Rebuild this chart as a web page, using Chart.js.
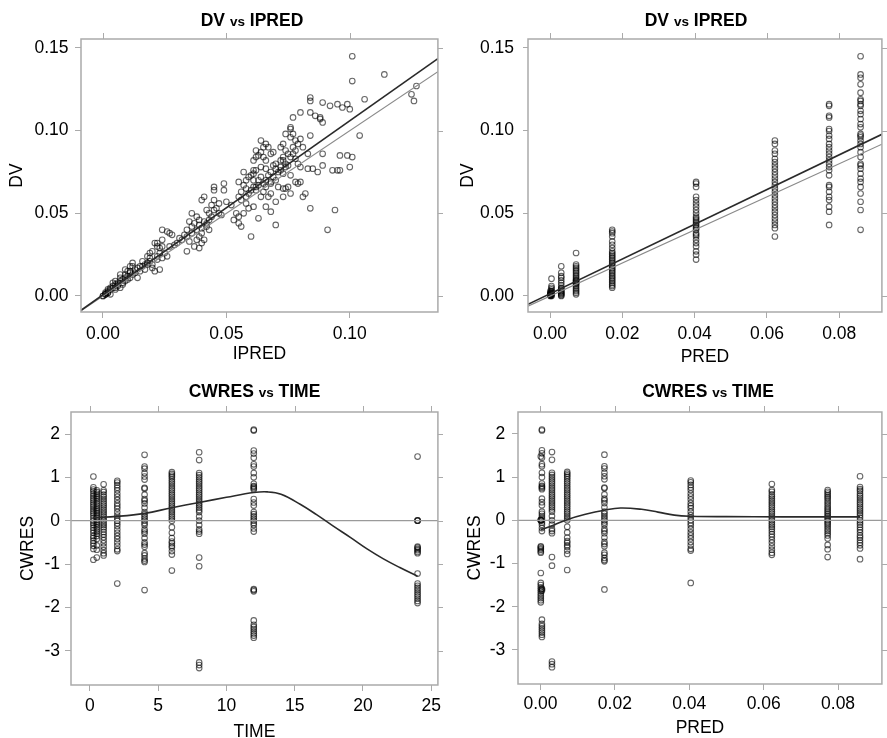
<!DOCTYPE html>
<html><head><meta charset="utf-8">
<script src="https://cdn.jsdelivr.net/npm/chart.js@4.4.0/dist/chart.umd.min.js"></script>
<style>
html,body{margin:0;padding:0;background:#fff;overflow:hidden;width:887px;height:738px;}
.p{position:absolute;}
canvas{display:block;}
</style></head><body>
<div class="p" style="left:0;top:0"><canvas id="c1" width="443" height="369"></canvas></div>
<div class="p" style="left:443px;top:0"><canvas id="c2" width="444" height="369"></canvas></div>
<div class="p" style="left:0;top:369px"><canvas id="c3" width="443" height="380"></canvas></div>
<div class="p" style="left:443px;top:369px"><canvas id="c4" width="444" height="380"></canvas></div>
<script>
// ---------------- DATA ----------------
const TIMES = [0.25, 0.5, 1, 2, 4, 6, 8, 12, 24];
const PREDS = [0.0859, 0.0772, 0.0622, 0.0404, 0.0172, 0.0072, 0.0031, 0.0004, 0.0001];

const DV_T025 = [0.145,0.134,0.132,0.128,0.123,0.119,0.118,0.116,0.115,0.112,0.110,0.107,0.104,0.102,0.098,0.097,0.096,0.094,0.092,0.090,0.087,0.084,0.080,0.079,0.077,0.074,0.071,0.069,0.066,0.062,0.057,0.052,0.040];
const DV_T05 = [0.116,0.115,0.109,0.108,0.101,0.0998,0.097,0.095,0.092,0.090,0.088,0.086,0.084,0.082,0.080,0.078,0.076,0.073,0.067,0.066,0.063,0.060,0.058,0.054,0.051,0.043];
const DV_T1 = [0.094,0.092,0.088,0.086,0.083,0.081,0.079,0.077,0.075,0.073,0.071,0.069,0.067,0.065,0.063,0.061,0.059,0.057,0.055,0.053,0.051,0.049,0.047,0.045,0.043,0.041,0.036];
const DV_T2 = [0.069,0.068,0.066,0.060,0.058,0.056,0.054,0.052,0.050,0.048,0.047,0.046,0.045,0.044,0.043,0.042,0.041,0.040,0.038,0.037,0.036,0.034,0.032,0.030,0.027,0.025,0.022];
const DV_T4 = [0.040,0.039,0.038,0.036,0.033,0.031,0.029,0.027,0.026,0.025,0.024,0.023,0.022,0.021,0.020,0.019,0.018,0.017,0.016,0.015,0.014,0.013,0.012,0.011,0.010,0.009,0.008,0.007,0.006,0.005];
const DV_T6 = [0.026,0.019,0.018,0.017,0.016,0.015,0.014,0.013,0.012,0.011,0.010,0.0095,0.009,0.0085,0.008,0.0075,0.007,0.006,0.005,0.004,0.003,0.002,0.001];
const DV_T8 = [0.018,0.014,0.012,0.011,0.0095,0.008,0.0065,0.005,0.0045,0.004,0.003,0.0025,0.002,0.0015,0.001,0.0005,0.0];
const DV_T12 = [0.0105,0.006,0.005,0.004,0.003,0.0025,0.002,0.0015,0.001,0.0005,0.0];
const DV_T24 = [0.003,0.002,0.0015,0.001,0.0008,0.0005,0.0003,0.0];
const DV_BY_GROUP = [DV_T025, DV_T05, DV_T1, DV_T2, DV_T4, DV_T6, DV_T8, DV_T12, DV_T24];

const CW_T025 = [1.02,0.77,0.72,0.68,0.62,0.57,0.52,0.47,0.42,0.37,0.32,0.27,0.22,0.17,0.12,0.06,0.0,-0.05,-0.1,-0.16,-0.22,-0.28,-0.35,-0.4,-0.46,-0.52,-0.58,-0.65,-0.9];
const CW_T05 = [0.7,0.66,0.62,0.58,0.54,0.5,0.45,0.4,0.35,0.3,0.26,0.22,0.18,0.14,0.1,0.06,0.02,-0.02,-0.06,-0.1,-0.15,-0.2,-0.25,-0.3,-0.35,-0.42,-0.57,-0.67,-0.85];
const CW_T1 = [0.84,0.7,0.66,0.6,0.55,0.5,0.45,0.4,0.35,0.3,0.25,0.2,0.15,0.1,0.05,0.0,-0.05,-0.1,-0.15,-0.2,-0.26,-0.32,-0.38,-0.45,-0.52,-0.6,-0.68,-0.75,-0.8];
const CW_T2 = [0.92,0.88,0.82,0.76,0.7,0.62,0.55,0.48,0.4,0.34,0.28,0.2,0.12,0.06,0.0,-0.06,-0.12,-0.2,-0.28,-0.35,-0.42,-0.5,-0.58,-0.66,-0.7,-1.45];
const CW_T4 = [1.52,1.25,1.2,1.1,1.02,0.95,0.76,0.74,0.6,0.5,0.46,0.4,0.3,0.2,0.15,0.1,0.05,0.0,-0.05,-0.1,-0.2,-0.25,-0.3,-0.4,-0.5,-0.55,-0.6,-0.75,-0.8,-0.87,-0.92,-0.95,-1.6];
const CW_T6 = [1.12,1.08,1.04,1.0,0.95,0.9,0.85,0.8,0.75,0.7,0.65,0.6,0.55,0.5,0.45,0.4,0.35,0.3,0.25,0.2,0.15,0.1,0.05,0.0,-0.15,-0.28,-0.4,-0.48,-0.52,-0.58,-0.62,-0.7,-0.78,-1.15];
const CW_T8 = [1.58,1.4,1.1,1.05,1.0,0.95,0.9,0.85,0.8,0.75,0.7,0.65,0.6,0.55,0.5,0.45,0.4,0.35,0.3,0.25,0.2,0.1,0.0,-0.1,-0.2,-0.25,-0.3,-0.85,-1.05,-3.27,-3.33,-3.4];
const CW_T12 = [2.1,2.08,1.62,1.55,1.45,1.3,1.25,1.1,1.0,0.85,0.8,0.78,0.75,0.72,0.5,0.42,0.35,0.2,0.15,0.1,0.05,0.0,-0.05,-0.1,-0.18,-0.25,-1.58,-1.6,-1.63,-2.3,-2.4,-2.45,-2.5,-2.55,-2.6,-2.65,-2.7];
const CW_T24 = [1.48,0.0,0.0,0.01,-0.6,-0.62,-0.65,-0.68,-0.72,-0.75,-1.22,-1.45,-1.5,-1.55,-1.6,-1.65,-1.7,-1.75,-1.8,-1.85,-1.9];
const CWRES_BY_GROUP = [CW_T025, CW_T05, CW_T1, CW_T2, CW_T4, CW_T6, CW_T8, CW_T12, CW_T24];

// IPRED vs DV observations [IPRED, DV]
const IP_DV_HIGH = [[0.101,0.145],[0.101,0.130],[0.114,0.134],[0.127,0.127],[0.125,0.122],[0.126,0.118],[0.106,0.119],[0.084,0.120],[0.084,0.118],[0.089,0.117],[0.092,0.115],[0.095,0.116],[0.097,0.114],[0.099,0.116],[0.100,0.113],[0.104,0.097],[0.084,0.111],[0.080,0.111],[0.086,0.109],[0.088,0.108],[0.089,0.105],[0.088,0.107],[0.077,0.108],[0.076,0.102],[0.077,0.098],[0.076,0.096],[0.078,0.094],[0.084,0.097],[0.080,0.095],[0.081,0.090],[0.083,0.086],[0.089,0.086],[0.096,0.085],[0.099,0.085],[0.101,0.084],[0.089,0.079],[0.100,0.078],[0.093,0.076],[0.095,0.076],[0.096,0.076],[0.087,0.075],[0.085,0.077],[0.083,0.077],[0.080,0.078],[0.079,0.080],[0.078,0.083],[0.076,0.084],[0.073,0.084],[0.072,0.090],[0.073,0.092],[0.074,0.088],[0.069,0.087],[0.067,0.090],[0.065,0.090],[0.064,0.087],[0.062,0.084],[0.061,0.082],[0.065,0.084],[0.066,0.082],[0.068,0.086],[0.070,0.080],[0.072,0.082],[0.074,0.078],[0.072,0.076],[0.073,0.074],[0.070,0.070],[0.068,0.069],[0.066,0.066],[0.068,0.068],[0.066,0.077],[0.068,0.075],[0.074,0.080],[0.077,0.090],[0.074,0.098],[0.076,0.101],[0.066,0.092],[0.064,0.094],[0.069,0.072]];
const IP_DV_UPPERMID = [[0.062,0.076],[0.064,0.078],[0.061,0.076],[0.059,0.072],[0.058,0.070],[0.057,0.067],[0.055,0.069],[0.057,0.075],[0.061,0.074],[0.061,0.070],[0.063,0.067],[0.065,0.063],[0.064,0.060],[0.062,0.064],[0.061,0.066],[0.059,0.062],[0.058,0.060],[0.056,0.063],[0.055,0.060],[0.056,0.058],[0.058,0.056],[0.059,0.053],[0.061,0.054],[0.057,0.050],[0.055,0.048],[0.054,0.050],[0.053,0.046],[0.055,0.044],[0.056,0.042],[0.060,0.036],[0.063,0.047],[0.066,0.054],[0.068,0.051],[0.070,0.057],[0.073,0.060],[0.076,0.062],[0.078,0.069],[0.079,0.068],[0.080,0.069],[0.076,0.073],[0.082,0.062],[0.084,0.053],[0.081,0.060],[0.070,0.043],[0.094,0.052],[0.091,0.040],[0.075,0.066],[0.074,0.065],[0.073,0.065],[0.060,0.064],[0.062,0.066],[0.063,0.070],[0.064,0.072],[0.065,0.068],[0.066,0.070],[0.067,0.073],[0.068,0.062],[0.069,0.079],[0.070,0.077],[0.071,0.075],[0.072,0.078],[0.073,0.082],[0.075,0.079],[0.075,0.086],[0.077,0.086],[0.078,0.088],[0.079,0.092],[0.060,0.073],[0.058,0.065],[0.063,0.085],[0.062,0.088],[0.071,0.066],[0.067,0.060]];
const IP_DV_MID = [[0.045,0.066],[0.041,0.060],[0.040,0.058],[0.036,0.050],[0.038,0.048],[0.039,0.046],[0.041,0.045],[0.042,0.042],[0.043,0.040],[0.043,0.046],[0.040,0.038],[0.039,0.036],[0.038,0.034],[0.036,0.038],[0.034,0.040],[0.036,0.042],[0.034,0.036],[0.035,0.033],[0.037,0.030],[0.039,0.029],[0.034,0.027],[0.040,0.032],[0.041,0.034],[0.045,0.052],[0.045,0.058],[0.045,0.064],[0.049,0.064],[0.049,0.068],[0.047,0.056],[0.044,0.055],[0.042,0.052],[0.044,0.048],[0.030,0.032],[0.032,0.034],[0.033,0.037],[0.035,0.045],[0.037,0.044],[0.038,0.040],[0.039,0.043],[0.040,0.041],[0.042,0.044],[0.043,0.050],[0.046,0.053],[0.047,0.050],[0.048,0.049],[0.050,0.057],[0.052,0.055],[0.031,0.035],[0.029,0.031],[0.027,0.030]];
const IP_DV_LOWMID = [[0.024,0.040],[0.026,0.039],[0.027,0.038],[0.028,0.037],[0.024,0.034],[0.022,0.032],[0.021,0.032],[0.022,0.030],[0.023,0.029],[0.020,0.027],[0.019,0.026],[0.018,0.024],[0.016,0.021],[0.018,0.020],[0.024,0.030],[0.025,0.026],[0.026,0.024],[0.024,0.023],[0.022,0.022],[0.020,0.019],[0.019,0.023],[0.015,0.018],[0.017,0.016],[0.020,0.017],[0.021,0.015],[0.023,0.016],[0.023,0.026],[0.022,0.024],[0.016,0.018],[0.017,0.019],[0.019,0.021],[0.018,0.019],[0.015,0.015],[0.014,0.017]];
const IP_DV_LOW = [[0.012,0.020],[0.011,0.018],[0.009,0.016],[0.011,0.015],[0.013,0.014],[0.009,0.013],[0.010,0.010],[0.007,0.011],[0.008,0.008],[0.007,0.009],[0.005,0.007],[0.004,0.006],[0.003,0.005],[0.005,0.004],[0.002,0.003],[0.001,0.002],[0.001,0.001],[0.000,0.000],[0.003,0.001],[0.006,0.006],[0.007,0.005],[0.008,0.007],[0.012,0.018],[0.014,0.011],[0.011,0.014],[0.007,0.013],[0.005,0.009],[0.004,0.008],[0.002,0.004],[0.001,0.001],[0.000,0.000],[0.001,0.001],[0.002,0.002],[0.003,0.004],[0.004,0.005],[0.006,0.008],[0.008,0.010],[0.009,0.011],[0.010,0.012],[0.012,0.013],[0.013,0.016],[0.010,0.015],[0.006,0.007],[0.005,0.005],[0.002,0.002],[0.009,0.009],[0.011,0.011]];

// regression lines: [slope, intercept]
const FIT_DV_IPRED = [1.053, 0.0007];
const FIT_DV_PRED = [1.050, 0.0014];

// smooth (loess) curves
const LOESS_TIME_X = [0.25, 2, 4, 6, 8, 10, 12, 13, 14, 15.4, 16.6, 17.8, 19.1, 20.3, 21.5, 22.7, 24];
const LOESS_TIME_Y = [0.07, 0.1, 0.17, 0.3, 0.42, 0.54, 0.65, 0.665, 0.61, 0.38, 0.14, -0.12, -0.39, -0.65, -0.88, -1.08, -1.28];
const LOESS_PRED_X = [0.0001, 0.0033, 0.0073, 0.0121, 0.0172, 0.0215, 0.0272, 0.0316, 0.036, 0.0405, 0.05, 0.065, 0.0772, 0.0859];
const LOESS_PRED_Y = [-0.22, -0.12, 0.02, 0.14, 0.235, 0.285, 0.255, 0.19, 0.12, 0.095, 0.085, 0.08, 0.08, 0.08];

// tick labels
const TICKS_DV = [0, 0.05, 0.10, 0.15];
const TICKS_IPRED = [0, 0.05, 0.10];
const TICKS_PRED = [0, 0.02, 0.04, 0.06, 0.08];
const TICKS_CWRES = [-3, -2, -1, 0, 1, 2];
const TICKS_TIME = [0, 5, 10, 15, 20, 25];

// ---------------- STYLE / HELPERS ----------------
const FONT = "'Liberation Sans', Arial, Helvetica, sans-serif";
const FSIZE = 17.5;
const FRAME = '#aaaaaa';
const PT = {type:'scatter', pointStyle:'circle', pointRadius:2.8, pointBorderWidth:1.1, borderColor:'rgba(0,0,0,0.6)', backgroundColor:'rgba(0,0,0,0)', order:2};

const panelDeco = {
  id: 'panelDeco',
  afterDraw(chart, args, o) {
    const {ctx, chartArea: a, scales} = chart;
    ctx.save();
    ctx.strokeStyle = FRAME; ctx.lineWidth = 1.5;
    ctx.strokeRect(a.left, a.top, a.right - a.left, a.bottom - a.top);
    ctx.lineWidth = 1;
    ctx.beginPath();
    scales.x.ticks.forEach(t => { const px = Math.round(scales.x.getPixelForValue(t.value)) + 0.5; ctx.moveTo(px, a.top); ctx.lineTo(px, a.top - o.tl); });
    scales.y.ticks.forEach(t => { const py = Math.round(scales.y.getPixelForValue(t.value)) + 0.5; ctx.moveTo(a.right, py); ctx.lineTo(a.right + o.tl, py); });
    ctx.stroke();
    const big = 'bold ' + FSIZE + 'px ' + FONT, small = 'bold 13.5px ' + FONT;
    ctx.fillStyle = '#000'; ctx.textBaseline = 'middle'; ctx.textAlign = 'left';
    const parts = [[o.title[0] + ' ', big], ['vs', small], [' ' + o.title[1], big]];
    let w = 0; parts.forEach(p => { ctx.font = p[1]; w += ctx.measureText(p[0]).width; });
    let x = o.tx - w / 2;
    parts.forEach(p => { ctx.font = p[1]; ctx.fillText(p[0], x, o.ty + (p[1] === small ? 1 : 0)); x += ctx.measureText(p[0]).width; });
    ctx.restore();
  }
};

function fixSize(prop, val) {
  return s => { s[prop] = val; s.paddingLeft = 0; s.paddingRight = 0; s.paddingTop = 0; s.paddingBottom = 0; };
}

function axis(cfg) {
  return {
    type: 'linear', min: cfg.min, max: cfg.max,
    afterBuildTicks: s => { s.ticks = cfg.ticks.map(v => ({value: v})); },
    ticks: {font: {family: FONT, size: FSIZE}, color: '#000', padding: cfg.tp, autoSkip: false, maxRotation: 0, callback: cfg.fmt},
    grid: {display: true, drawOnChartArea: false, drawTicks: true, tickLength: cfg.tl, color: FRAME, lineWidth: 1},
    border: {display: false},
    title: {display: true, text: cfg.title, font: {family: FONT, size: FSIZE}, color: '#000', padding: cfg.titlePad},
    afterFit: fixSize(cfg.sizeProp, cfg.size)
  };
}

function makeChart(id, L, datasets) {
  const yAxis = axis(Object.assign({sizeProp: 'width'}, L.y));
  yAxis.position = 'left';
  const xAxis = axis(Object.assign({sizeProp: 'height'}, L.x));
  xAxis.position = 'bottom';
  return new Chart(document.getElementById(id), {
    type: 'scatter',
    data: {datasets},
    options: {
      responsive: false, animation: false, events: [],
      layout: {padding: {top: L.top, right: L.right, left: 0, bottom: 0}},
      plugins: {legend: {display: false}, tooltip: {enabled: false}, title: {display: false},
        panelDeco: {title: L.title, tx: L.tx, ty: L.ty, tl: 6}},
      scales: {x: xAxis, y: yAxis}
    },
    plugins: [panelDeco]
  });
}

const f2 = v => Number(v).toFixed(2);
const f0 = v => String(v);

function groupPoints(xs, ys) {
  const out = [];
  ys.forEach((arr, g) => arr.forEach(v => out.push({x: xs[g], y: v})));
  return out;
}
function pairs(list) { return list.map(p => ({x: p[0], y: p[1]})); }
function fitLine(fit, x0, x1) { return [{x: x0, y: fit[0] * x0 + fit[1]}, {x: x1, y: fit[0] * x1 + fit[1]}]; }
function lineDS(data, color, width, extra) {
  return Object.assign({type: 'line', data, borderColor: color, borderWidth: width, pointRadius: 0, fill: false, order: 0}, extra || {});
}

// ---------------- PANEL 1: DV vs IPRED ----------------
const X1 = [-0.0089, 0.1357];
makeChart('c1', {
  top: 39, right: 5, title: ['DV', 'IPRED'], tx: 252, ty: 21,
  x: {min: X1[0], max: X1[1], ticks: TICKS_IPRED, fmt: f2, tp: 5.5, tl: 6, title: 'IPRED', titlePad: {top: 0, bottom: 4.5}, size: 57},
  y: {min: -0.00968, max: 0.15544, ticks: TICKS_DV, fmt: f2, tp: 6.5, tl: 6, title: 'DV', titlePad: {top: 6.2, bottom: 0}, size: 81}
}, [
  Object.assign({data: pairs([].concat(IP_DV_HIGH, IP_DV_UPPERMID, IP_DV_MID, IP_DV_LOWMID, IP_DV_LOW))}, PT),
  lineDS(fitLine([1, 0], X1[0], X1[1]), '#8a8a8a', 1.2, {order: 1}),
  lineDS(fitLine(FIT_DV_IPRED, X1[0], X1[1]), '#2a2a2a', 1.6)
]);

// ---------------- PANEL 2: DV vs PRED ----------------
const X2 = [-0.0061, 0.0918];
makeChart('c2', {
  top: 39, right: 1, title: ['DV', 'IPRED'], tx: 253, ty: 21,
  x: {min: X2[0], max: X2[1], ticks: TICKS_PRED, fmt: f2, tp: 5.5, tl: 6, title: 'PRED', titlePad: {top: 0, bottom: 1.5}, size: 57},
  y: {min: -0.00968, max: 0.15544, ticks: TICKS_DV, fmt: f2, tp: 9, tl: 5, title: 'DV', titlePad: {top: 14.5, bottom: 0}, size: 85}
}, [
  Object.assign({data: groupPoints(PREDS, DV_BY_GROUP)}, PT),
  lineDS(fitLine([1, 0], X2[0], X2[1]), '#8a8a8a', 1.2, {order: 1}),
  lineDS(fitLine(FIT_DV_PRED, X2[0], X2[1]), '#2a2a2a', 1.6)
]);

// ---------------- PANEL 3: CWRES vs TIME ----------------
const X3 = [-1.39, 25.49];
makeChart('c3', {
  top: 43, right: 5, title: ['CWRES', 'TIME'], tx: 254.5, ty: 23,
  x: {min: X3[0], max: X3[1], ticks: TICKS_TIME, fmt: f0, tp: 4.5, tl: 6, title: 'TIME', titlePad: {top: 0, bottom: 6.5}, size: 64},
  y: {min: -3.79, max: 2.508, ticks: TICKS_CWRES, fmt: f0, tp: 5, tl: 6, title: 'CWRES', titlePad: {top: 17.5, bottom: 0}, size: 71}
}, [
  Object.assign({data: groupPoints(TIMES, CWRES_BY_GROUP)}, PT),
  lineDS([{x: X3[0], y: 0}, {x: X3[1], y: 0}], '#9a9a9a', 1.2, {order: 1}),
  lineDS(LOESS_TIME_X.map((x, i) => ({x, y: LOESS_TIME_Y[i]})), '#2a2a2a', 1.6, {tension: 0.4})
]);

// ---------------- PANEL 4: CWRES vs PRED ----------------
const X4 = [-0.00603, 0.09178];
makeChart('c4', {
  top: 43, right: 1, title: ['CWRES', 'TIME'], tx: 265, ty: 23,
  x: {min: X4[0], max: X4[1], ticks: TICKS_PRED, fmt: f2, tp: 3.5, tl: 6, title: 'PRED', titlePad: {top: 0, bottom: 10.5}, size: 65},
  y: {min: -3.79, max: 2.508, ticks: TICKS_CWRES, fmt: f0, tp: 6.7, tl: 6, title: 'CWRES', titlePad: {top: 22, bottom: 0}, size: 75}
}, [
  Object.assign({data: groupPoints(PREDS, CWRES_BY_GROUP)}, PT),
  lineDS([{x: X4[0], y: 0}, {x: X4[1], y: 0}], '#9a9a9a', 1.2, {order: 1}),
  lineDS(LOESS_PRED_X.map((x, i) => ({x, y: LOESS_PRED_Y[i]})), '#2a2a2a', 1.6, {tension: 0.4})
]);
</script>
</body></html>
